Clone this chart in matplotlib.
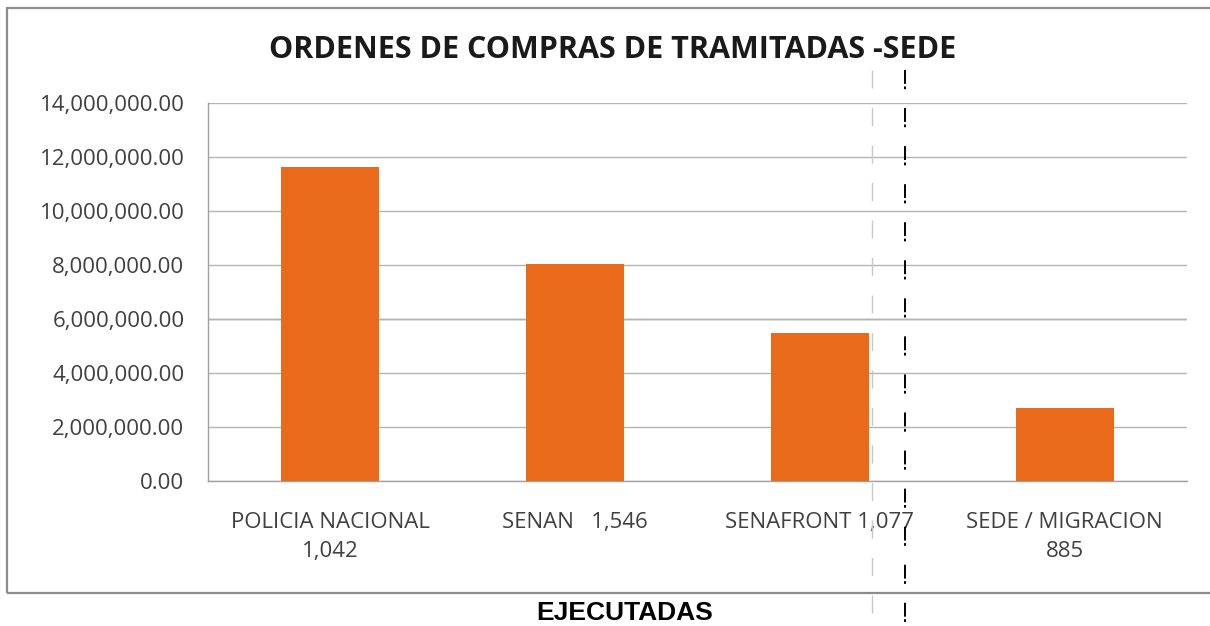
import matplotlib

matplotlib.use("Agg")
import matplotlib.pyplot as plt
from matplotlib.lines import Line2D
from matplotlib.patches import Rectangle
from matplotlib.ticker import FuncFormatter

# ---------------------------------------------------------------------------
# Data
# ---------------------------------------------------------------------------
categories = ["POLICIA NACIONAL\n1,042", "SENAN   1,546", "SENAFRONT 1,077", "SEDE / MIGRACION\n885"]
amounts = [11_630_000, 8_050_000, 5_470_000, 2_720_000]
y_ticks = [0, 2_000_000, 4_000_000, 6_000_000, 8_000_000, 10_000_000, 12_000_000, 14_000_000]

TITLE = "ORDENES DE COMPRAS DE TRAMITADAS -SEDE"
FOOTER = "EJECUTADAS"
BAR_COLOR = "#E86A1A"
GRID_COLOR = "#B4B4B4"
DARK_GRID = "#8E8E8E"
TEXT_COLOR = "#404040"
FONT = "Open Sans"

plt.rcParams["lines.scale_dashes"] = False

# ---------------------------------------------------------------------------
# Figure
# ---------------------------------------------------------------------------
fig = plt.figure(figsize=(12.10, 6.26), dpi=100)
ax = fig.add_axes([208 / 1210, 1 - 481 / 626, 979 / 1210, 378 / 626])

x = range(len(categories))
ax.bar(x, amounts, width=0.40, color=BAR_COLOR, zorder=3)

ax.set_ylim(0, 14_000_000)
ax.set_xlim(-0.5, 3.5)
ax.set_yticks(y_ticks)
ax.yaxis.set_major_formatter(FuncFormatter(lambda v, _: f"{v:,.2f}"))
ax.set_xticks(list(x))
ax.set_xticklabels(categories, family=FONT, fontsize=16, color=TEXT_COLOR, linespacing=1.5)
for lab in ax.get_yticklabels():
    lab.set_family(FONT)
    lab.set_fontsize(16)
    lab.set_color(TEXT_COLOR)

ax.tick_params(axis="y", length=0, pad=17)
ax.tick_params(axis="x", length=0, pad=22)
ax.grid(axis="y", color=GRID_COLOR, linewidth=1.0, zorder=0)
ax.axhline(y_ticks[-1], color=DARK_GRID, linewidth=1.2, zorder=1)
ax.axhline(y_ticks[3], color=DARK_GRID, linewidth=1.0, zorder=1)
for side in ("top", "right"):
    ax.spines[side].set_visible(False)
for side in ("left", "bottom"):
    ax.spines[side].set_color("#A0A0A0")
    ax.spines[side].set_linewidth(1.0)

# title and footer
fig.text(613 / 1210, 1 - 50 / 626, TITLE, family=FONT, weight="bold",
         fontsize=22, color="#1a1a1a", ha="center", va="center")
fig.text(625 / 1210, 1 - 613 / 626, FOOTER, family="Liberation Sans", weight="bold",
         fontsize=19, color="black", ha="center", va="center")

# outer chart frame (runs past the right edge)
fig.add_artist(Rectangle((7 / 1210, 1 - 593 / 626), 1.1, 585 / 626,
                         transform=fig.transFigure, fill=False,
                         edgecolor="#8C8C8C", linewidth=1.6))

# stray dashed guide lines over the chart
gray_line = Line2D([872 / 1210, 872 / 1210], [1 - 70 / 626, 0],
                   transform=fig.transFigure, color="#C8C8C8", linewidth=1.0)
gray_line.set_dashes((13, 14))
fig.add_artist(gray_line)
black_line = Line2D([905 / 1210, 905 / 1210], [1 - 70 / 626, 0],
                    transform=fig.transFigure, color="black", linewidth=1.4)
black_line.set_dashes((10, 1.8, 2, 13.6))
fig.add_artist(black_line)

fig.savefig("out.png", dpi=100)
plt.close(fig)
